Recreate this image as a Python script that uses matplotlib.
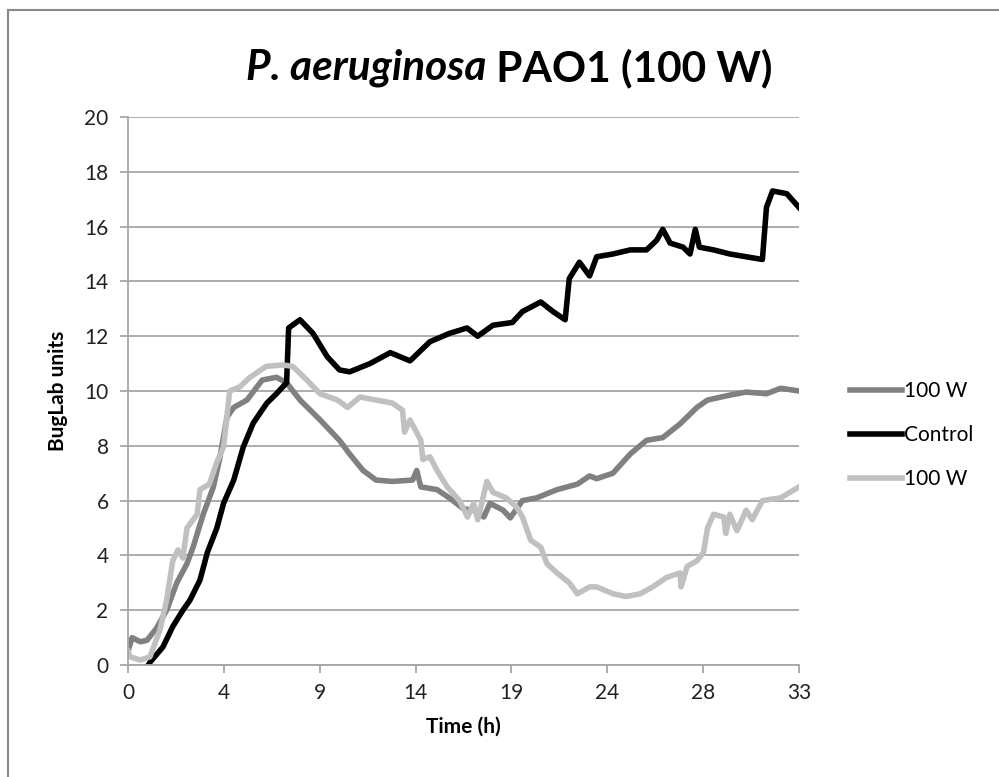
import matplotlib
matplotlib.use("Agg")
import matplotlib.pyplot as plt
from matplotlib.patches import Rectangle

# ---- data ----
w1_h = [0, 0.2, 0.6, 0.93, 1.4, 1.9, 2.4, 2.9, 3.2, 3.7, 4.2, 4.5, 4.87, 5.2, 5.85, 6.6, 7.3, 7.8,
        8.46, 9.44, 10.4, 10.9, 11.56, 12.2, 13.0, 14.0, 14.2, 14.4, 15.2, 15.8, 16.5, 17.0, 17.5,
        17.8, 18.45, 18.8, 19.4, 20.1, 21.1, 22.1, 22.7, 23.05, 23.85, 24.7, 25.5, 26.3, 27.15,
        27.98, 28.5, 29.6, 30.4, 31.4, 32.1, 33.0]
w1_v = [0.5, 1.0, 0.85, 0.9, 1.34, 2.0, 3.0, 3.7, 4.3, 5.5, 6.5, 7.5, 9.05, 9.4, 9.67, 10.4, 10.5, 10.3,
        9.67, 8.95, 8.2, 7.7, 7.1, 6.75, 6.7, 6.75, 7.1, 6.5, 6.4, 6.1, 5.7, 5.65, 5.4,
        5.9, 5.65, 5.37, 6.0, 6.1, 6.4, 6.6, 6.9, 6.8, 7.0, 7.7, 8.2, 8.3, 8.8,
        9.4, 9.67, 9.85, 9.96, 9.9, 10.1, 10.0]

ctrl_h = [1.0, 1.08, 1.72, 2.2, 2.7, 3.05, 3.54, 3.9, 4.37, 4.7, 5.2, 5.67, 6.16, 6.83, 7.3, 7.8, 7.9,
          8.46, 9.1, 9.8, 10.4, 10.9, 11.9, 12.9, 13.87, 14.85, 15.8, 16.67, 17.2, 17.95, 18.9, 19.4,
          20.3, 20.9, 21.5, 21.7, 22.2, 22.7, 23.05, 23.85, 24.7, 25.5, 26.0, 26.3, 26.66, 27.3,
          27.64, 27.9, 28.1, 28.8, 29.6, 30.4, 31.2, 31.4, 31.7, 32.4, 33.0]
ctrl_v = [0.0, 0.1, 0.66, 1.4, 2.0, 2.37, 3.1, 4.1, 5.0, 5.9, 6.75, 7.96, 8.83, 9.56, 9.9, 10.3, 12.3,
          12.6, 12.1, 11.25, 10.77, 10.7, 11.0, 11.4, 11.1, 11.8, 12.1, 12.3, 12.0, 12.4, 12.5, 12.9,
          13.25, 12.9, 12.6, 14.1, 14.7, 14.2, 14.9, 15.0, 15.15, 15.15, 15.5, 15.9, 15.4, 15.25,
          15.0, 15.9, 15.25, 15.15, 15.0, 14.9, 14.8, 16.7, 17.3, 17.2, 16.7]

w2_h = [0, 0.1, 0.6, 1.08, 1.57, 1.9, 2.2, 2.46, 2.7, 2.9, 3.4, 3.54, 4.0, 4.37, 4.7, 5.0, 5.5, 6.0,
        6.8, 7.6, 8.1, 8.8, 9.44, 10.3, 10.8, 11.4, 12.2, 13.0, 13.5, 13.6, 13.87, 14.4, 14.5, 14.85,
        15.2, 15.7, 16.3, 16.7, 17.0, 17.2, 17.65, 17.95, 18.6, 19.1, 19.4, 19.8, 20.3, 20.6, 21.1,
        21.7, 22.1, 22.7, 23.05, 23.85, 24.5, 25.2, 25.8, 26.5, 27.15, 27.2, 27.5, 27.98, 28.3,
        28.5, 28.8, 29.3, 29.4, 29.6, 29.95, 30.4, 30.7, 31.2, 32.1, 33.0]
w2_v = [0.5, 0.3, 0.18, 0.3, 1.28, 2.37, 3.8, 4.2, 3.9, 5.0, 5.5, 6.4, 6.6, 7.4, 7.96, 10.0, 10.15, 10.5,
        10.9, 10.95, 10.9, 10.4, 9.9, 9.67, 9.4, 9.78, 9.67, 9.56, 9.3, 8.5, 8.94, 8.2, 7.5, 7.6,
        7.1, 6.5, 6.0, 5.4, 5.9, 5.3, 6.7, 6.3, 6.1, 5.77, 5.4, 4.56, 4.3, 3.7, 3.36,
        3.0, 2.6, 2.85, 2.85, 2.6, 2.5, 2.6, 2.85, 3.2, 3.36, 2.85, 3.6, 3.8, 4.1,
        5.0, 5.5, 5.4, 4.8, 5.5, 4.9, 5.65, 5.3, 6.0, 6.1, 6.5]

x_tick_labels = ["0", "4", "9", "14", "19", "24", "28", "33"]
y_ticks = [0, 2, 4, 6, 8, 10, 12, 14, 16, 18, 20]
series_labels = ["100 W", "Control", "100 W"]

# ---- figure ----
FONT = ["Lato", "DejaVu Sans"]
plt.rcParams["font.family"] = FONT

fig = plt.figure(figsize=(9.99, 7.77), dpi=100)
fig.patch.set_facecolor("white")
ax = fig.add_axes([128 / 999, 1 - 665 / 777, (799 - 128) / 999, (665 - 117) / 777])

lw = 4.0
ax.plot(w1_h, w1_v, color="#808080", lw=lw, label=series_labels[0], solid_joinstyle="round")
ax.plot(ctrl_h, ctrl_v, color="#000000", lw=lw, label=series_labels[1], solid_joinstyle="round")
ax.plot(w2_h, w2_v, color="#c0c0c0", lw=lw, label=series_labels[2], solid_joinstyle="round")

ax.set_xlim(0, 33)
ax.set_ylim(0, 20)
xt = [33 * i / 7 for i in range(8)]
ax.set_xticks(xt)
ax.set_xticklabels(x_tick_labels)
ax.set_yticks(y_ticks)
ax.set_yticklabels([str(v) for v in y_ticks])

ax.grid(axis="y", color="#a6a6a6", lw=1.3)
ax.set_axisbelow(True)
for s in ["top", "right"]:
    ax.spines[s].set_visible(False)
for s in ["left", "bottom"]:
    ax.spines[s].set_color("#a6a6a6")
    ax.spines[s].set_linewidth(1.3)
ax.tick_params(axis="both", colors="#a6a6a6", labelcolor="#222222", labelsize=15,
               length=6, width=1.3, direction="out")
ax.tick_params(axis="y", pad=8)
ax.tick_params(axis="x", pad=7)

ax.set_xlabel("Time (h)", fontsize=15, fontweight="bold", labelpad=10)
ax.set_ylabel("BugLab units", fontsize=15, fontweight="bold", labelpad=12)

# title: italic species + bold strain
ty = 1 - 68 / 777
t1 = fig.text(0.0, ty, "P. aeruginosa", fontsize=30.5, fontweight="bold",
              fontstyle="italic", va="center", ha="left")
t2 = fig.text(0.0, ty, " PAO1 (100 W)", fontsize=30.5, fontweight="bold",
              va="center", ha="left")
fig.canvas.draw()
r = fig.canvas.get_renderer()
b1 = t1.get_window_extent(r)
b2 = t2.get_window_extent(r)
total = b1.width + b2.width
cx = 509
x0 = cx - total / 2
t1.set_x(x0 / 999)
t2.set_x((x0 + b1.width) / 999)

leg = ax.legend(loc="center left", bbox_to_anchor=(850 / 999, 1 - 435 / 777),
                bbox_transform=fig.transFigure, frameon=False, fontsize=15,
                handlelength=2.5, handletextpad=0.1, labelspacing=1.15, borderaxespad=0,
                borderpad=0)
for line in leg.get_lines():
    line.set_linewidth(4.0)

# outer chart border
fig.add_artist(Rectangle((8 / 999, -0.1), 1.2, 1.1 - 10 / 777, transform=fig.transFigure,
                         fill=False, edgecolor="#888888", lw=1.5, clip_on=False))

fig.savefig("out.png", dpi=100, facecolor="white")
